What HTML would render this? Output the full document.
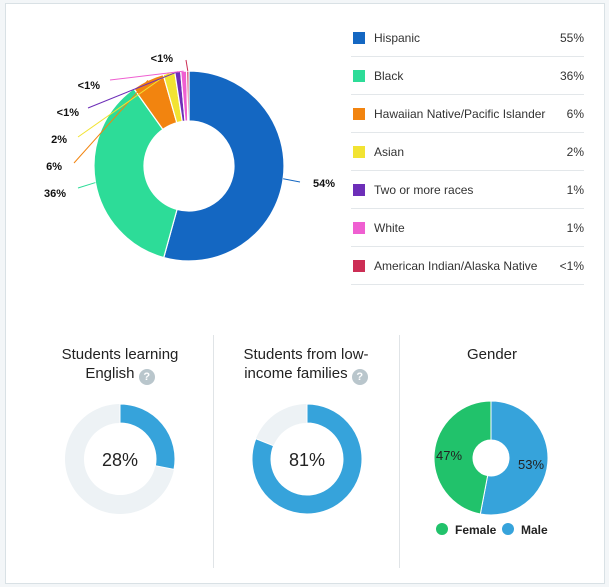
<!DOCTYPE html>
<html><head><meta charset="utf-8"><style>
body{margin:0;width:609px;height:587px;background:#f3f6f8;font-family:"Liberation Sans","DejaVu Sans",sans-serif;position:relative;overflow:hidden}
#card{position:absolute;left:5px;top:3px;width:598px;height:579px;background:#fff;border:1px solid #d9e1e5}
.leg{position:absolute;left:351px;width:233px;height:37px;border-bottom:1px solid #e3e7ea;font-size:12px;color:#333}
.leg .sw{position:absolute;left:2px;top:13px;width:12px;height:12px}
.leg .nm{position:absolute;left:23px;top:12px}
.leg .vl{position:absolute;right:0;top:12px}
.ttl{position:absolute;text-align:center;font-size:15px;color:#222;line-height:19px}
.q{display:inline-block;width:16px;height:16px;border-radius:50%;background:#b9c6cc;color:#fff;font-size:11px;line-height:16px;text-align:center;font-weight:bold;vertical-align:-2px}
.div{position:absolute;top:335px;width:1px;height:233px;background:#e0e4e7}
</style></head><body>
<div id="card"></div>
<svg id="pie" width="609" height="587" style="position:absolute;left:0;top:0"></svg>
<div id="legend"></div>
<div class="div" style="left:213px"></div>
<div class="div" style="left:399px"></div>
<div class="ttl" style="left:35px;top:345px;width:170px">Students learning<br>English <span class="q">?</span></div>
<div class="ttl" style="left:221px;top:345px;width:170px">Students from low-<br>income families <span class="q">?</span></div>
<div class="ttl" style="left:407px;top:345px;width:170px">Gender</div>
<script>
const ethCats=["Hispanic","Black","Hawaiian Native/Pacific Islander","Asian","Two or more races","White","American Indian/Alaska Native"];
const ethVals=[54.5,36,5.5,2,1,1,0.4];
const ethLegendLabels=["55%","36%","6%","2%","1%","1%","<1%"];
const ethPieLabels=["54%","36%","6%","2%","<1%","<1%","<1%"];
const ethColors=["#1467c2","#2ddc98","#f2840f","#f2e332","#6d2eb8","#ef5fd1","#cc2e55"];
const englishVal=[28];
const lowIncomeVal=[81];
const genderCats=["Male","Female"];
const genderVals=[53,47];
const genderColors=["#36a3db","#21c26b"];

const NS="http://www.w3.org/2000/svg";
const svg=document.getElementById('pie');
function mk(t,a){const e=document.createElementNS(NS,t);for(const k in a)e.setAttribute(k,a[k]);return e;}
function pt(cx,cy,r,f){const a=f*2*Math.PI;return [cx+r*Math.sin(a),cy-r*Math.cos(a)];}
function arc(cx,cy,R,r,f0,f1){
  if(f1-f0>=0.9999)f1=f0+0.9999;
  const L=(f1-f0)>0.5?1:0;
  const [x0,y0]=pt(cx,cy,R,f0),[x1,y1]=pt(cx,cy,R,f1),[x2,y2]=pt(cx,cy,r,f1),[x3,y3]=pt(cx,cy,r,f0);
  return `M${x0},${y0}A${R},${R} 0 ${L} 1 ${x1},${y1}L${x2},${y2}A${r},${r} 0 ${L} 0 ${x3},${y3}Z`;
}
const tot=ethVals.reduce((a,b)=>a+b,0);
const labelPos=[[313,187,'start'],[66,197,'end'],[62,170,'end'],[67,143,'end'],[79,116,'end'],[100,89,'end'],[173,62,'end']];
const elbow=[[300,182],[78,188],[74,163],[78,137],[88,108],[110,80],[186,60]];
let acc=0;
ethVals.forEach((v,i)=>{
  const f0=acc/tot,f1=(acc+v)/tot;acc+=v;
  const p=mk('path',{d:arc(189,166,95,45,f0,f1),fill:ethColors[i],stroke:'#fff','stroke-width':1.2});
  
  
  svg.appendChild(p);
  const [sx,sy]=pt(189,166,95,(f0+f1)/2);
  const [ex,ey]=elbow[i];
  const ln=mk('polyline',{points:`${sx},${sy} ${ex},${ey}`,fill:'none',stroke:ethColors[i],'stroke-width':1});
  
  
  svg.appendChild(ln);
  const t=mk('text',{x:labelPos[i][0],y:labelPos[i][1],'text-anchor':labelPos[i][2],'font-size':11,'font-weight':'bold',fill:'#111'});
  t.textContent=ethPieLabels[i];
  
  
  svg.appendChild(t);
});
const lg=document.getElementById('legend');
ethCats.forEach((c,i)=>{
  const d=document.createElement('div');d.className='leg';d.style.top=(19+i*38)+'px';
  
  
  d.innerHTML=`<span class="sw" style="background:${ethColors[i]}"></span><span class="nm">${c}</span><span class="vl">${ethLegendLabels[i]}</span>`;
  lg.appendChild(d);
});
function single(cx,val,name){
  const bg=mk('path',{d:arc(cx,459,55,36,0,1),fill:'#edf2f5'});
  
  
  svg.appendChild(bg);
  const p=mk('path',{d:arc(cx,459,55,36,0,val/100),fill:'#36a3db',stroke:'#fff','stroke-width':1});
  
  
  svg.appendChild(p);
  const t=mk('text',{x:cx,y:466,'text-anchor':'middle','font-size':18,fill:'#222'});
  t.textContent=val+'%';
  
  
  svg.appendChild(t);
}
single(120,englishVal[0],'english-learners');
single(307,lowIncomeVal[0],'low-income');
let g=0;const gt=genderVals.reduce((a,b)=>a+b,0);
const glab=[[531,469],[449,460]];
genderVals.forEach((v,i)=>{
  const f0=g/gt,f1=(g+v)/gt;g+=v;
  const p=mk('path',{d:arc(491,458,57,18,f0,f1),fill:genderColors[i],stroke:'#fff','stroke-width':1});
  
  
  svg.appendChild(p);
  const t=mk('text',{x:glab[i][0],y:glab[i][1],'text-anchor':'middle','font-size':13,fill:'#222'});
  t.textContent=v+'%';
  
  
  svg.appendChild(t);
});
[[442,'Female',1],[508,'Male',0]].forEach(([x,n,ci])=>{
  const c=mk('circle',{cx:x,cy:529,r:6,fill:genderColors[ci]});
  
  
  svg.appendChild(c);
  const t=mk('text',{x:x+13,y:534,'font-size':12,'font-weight':'bold',fill:'#222'});
  t.textContent=n;
  
  
  svg.appendChild(t);
});
</script>
</body></html>
